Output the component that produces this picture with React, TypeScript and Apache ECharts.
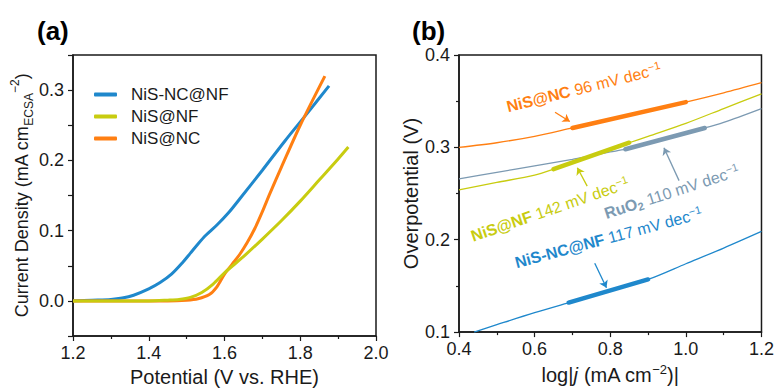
import React, { useEffect, useRef } from 'react';
import * as echarts from 'echarts';

// ---------- Panel (a): LSV normalised by ECSA ----------
const legendNames = ['NiS-NC@NF', 'NiS@NF', 'NiS@NC'];

const aBlueV = [1.20, 1.25, 1.30, 1.33, 1.36, 1.40, 1.43, 1.46, 1.49, 1.51, 1.53, 1.55, 1.58, 1.61, 1.64, 1.70, 1.76, 1.82, 1.876];
const aBlueJ = [0.000, 0.001, 0.002, 0.004, 0.008, 0.017, 0.026, 0.038, 0.055, 0.068, 0.081, 0.093, 0.108, 0.125, 0.145, 0.186, 0.228, 0.268, 0.306];

const aOrangeV = [1.20, 1.30, 1.40, 1.45, 1.50, 1.53, 1.56, 1.58, 1.60, 1.62, 1.64, 1.66, 1.68, 1.70, 1.72, 1.75, 1.80, 1.865];
const aOrangeJ = [0.000, 0.000, 0.000, 0.000, 0.001, 0.003, 0.009, 0.020, 0.038, 0.052, 0.066, 0.083, 0.103, 0.127, 0.153, 0.190, 0.250, 0.320];

const aYellowV = [1.20, 1.30, 1.40, 1.45, 1.48, 1.51, 1.54, 1.57, 1.60, 1.65, 1.70, 1.75, 1.80, 1.85, 1.90, 1.927];
const aYellowJ = [0.000, 0.000, 0.000, 0.001, 0.002, 0.005, 0.012, 0.024, 0.040, 0.063, 0.088, 0.114, 0.142, 0.172, 0.202, 0.219];

// ---------- Panel (b): Tafel plots ----------
const bOrangeX = [0.40, 0.50, 0.60, 0.70, 0.80, 0.90, 1.00, 1.10, 1.20];
const bOrangeY = [0.300, 0.305, 0.312, 0.321, 0.330, 0.340, 0.349, 0.359, 0.370];
const bOrangeFitX = [0.70, 1.00];
const bOrangeFitY = [0.321, 0.349];

const bYellowX = [0.40, 0.50, 0.60, 0.65, 0.70, 0.75, 0.80, 0.85, 0.90, 1.00, 1.10, 1.20];
const bYellowY = [0.254, 0.262, 0.270, 0.2765, 0.284, 0.291, 0.298, 0.305, 0.312, 0.326, 0.342, 0.358];
const bYellowFitX = [0.65, 0.85];
const bYellowFitY = [0.2765, 0.305];

const bGrayX = [0.40, 0.50, 0.60, 0.70, 0.75, 0.80, 0.84, 0.90, 1.00, 1.05, 1.10, 1.20];
const bGrayY = [0.266, 0.273, 0.280, 0.287, 0.291, 0.295, 0.298, 0.305, 0.316, 0.321, 0.327, 0.342];
const bGrayFitX = [0.84, 1.05];
const bGrayFitY = [0.298, 0.321];

const bBlueX = [0.44, 0.50, 0.60, 0.70, 0.80, 0.90, 1.00, 1.10, 1.20];
const bBlueY = [0.100, 0.108, 0.121, 0.133, 0.145, 0.157, 0.174, 0.191, 0.209];
const bBlueFitX = [0.69, 0.90];
const bBlueFitY = [0.132, 0.157];

// arrows [tailX, tailY, headX, headY]
const arrowOrange = [0.654, 0.338, 0.693, 0.328];
const arrowYellow = [0.739, 0.258, 0.713, 0.278];
const arrowGray = [0.982, 0.264, 0.942, 0.2995];
const arrowBlue = [0.759, 0.1746, 0.790, 0.148];

const C_BLUE = '#1f88cc';
const C_YEL = '#c8cc10';
const C_ORA = '#ff7f12';
const C_GRAY = '#7c9ab2';
const INK = '#1a1a1a';
const FONT = "'Liberation Sans', Arial, sans-serif";

const zip = (xs: number[], ys: number[]) => xs.map((x, i) => [x, ys[i]]);

const fmt1 = (v: number) => (Math.abs(v) < 1e-9 ? '0.0' : v.toFixed(1));

const TICK_FS = 18;
const TITLE_FS = 20;

function axisCommon() {
  return {
    axisLine: { show: true, onZero: false, lineStyle: { color: INK, width: 1.5 } },
    axisTick: { show: true, inside: false, length: 5, lineStyle: { color: INK, width: 1.2 } },
    minorTick: { show: true, splitNumber: 2, length: 3, lineStyle: { color: INK, width: 1.2 } },
    splitLine: { show: false },
    axisLabel: { fontSize: TICK_FS, color: INK, fontFamily: FONT, formatter: fmt1, margin: 8 },
    nameLocation: 'middle' as const,
    nameTextStyle: { fontSize: TITLE_FS, color: INK, fontFamily: FONT },
  };
}

export default function App() {
  const ref = useRef<HTMLDivElement>(null);

  useEffect(() => {
    if (!ref.current) return;
    const chart = echarts.init(ref.current, undefined, { renderer: 'svg' });

    const thin = (name: string, xs: number[], ys: number[], color: string) => ({
      name, type: 'line', xAxisIndex: 1, yAxisIndex: 1, data: zip(xs, ys),
      showSymbol: false, smooth: 0.3, lineStyle: { color, width: 1.3 }, itemStyle: { color }, z: 2,
    });
    const thick = (name: string, xs: number[], ys: number[], color: string) => ({
      name, type: 'line', xAxisIndex: 1, yAxisIndex: 1, data: zip(xs, ys),
      showSymbol: false, lineStyle: { color, width: 4.5, cap: 'round' }, itemStyle: { color }, z: 3,
    });
    const arrow = (name: string, a: number[], color: string) => ({
      name, type: 'lines', coordinateSystem: 'cartesian2d', xAxisIndex: 1, yAxisIndex: 1,
      symbol: ['none', 'arrow'], symbolSize: 7, silent: true,
      lineStyle: { color, width: 1.3, opacity: 1 },
      data: [{ coords: [[a[0], a[1]], [a[2], a[3]]] }], z: 4,
    });
    const lsv = (name: string, xs: number[], ys: number[], color: string) => ({
      name, type: 'line', xAxisIndex: 0, yAxisIndex: 0, data: zip(xs, ys),
      showSymbol: false, smooth: 0.3, lineStyle: { color, width: 3 }, itemStyle: { color },
    });

    const option: any = {
      animation: false,
      backgroundColor: '#ffffff',
      grid: [
        { left: 73, top: 55, width: 303, height: 282, show: true, borderColor: INK, borderWidth: 1.5 },
        { left: 459, top: 55, width: 303, height: 282, show: true, borderColor: INK, borderWidth: 1.5 },
      ],
      legend: {
        data: legendNames,
        left: 89, top: 81, orient: 'vertical', itemWidth: 23, itemHeight: 4, itemGap: 5,
        icon: 'roundRect',
        textStyle: { fontSize: 17, color: INK, fontFamily: FONT, lineHeight: 17, padding: [0, 0, 0, 9] },
      },
      xAxis: [
        {
          ...axisCommon(), gridIndex: 0, type: 'value', min: 1.2, max: 2.0, interval: 0.2,
          name: 'Potential (V vs. RHE)', nameGap: 31,
        },
        {
          ...axisCommon(), gridIndex: 1, type: 'value', min: 0.4, max: 1.2, interval: 0.2,
          name: 'log|{i|j} (mA cm{sup|−2})|', nameGap: 30,
          nameTextStyle: {
            fontSize: TITLE_FS, color: INK, fontFamily: FONT, lineHeight: 24,
            rich: {
              i: { fontSize: TITLE_FS, fontStyle: 'italic', color: INK, fontFamily: FONT, lineHeight: 24 },
              sup: { fontSize: 13, color: INK, fontFamily: FONT, verticalAlign: 'top', lineHeight: 13 },
            },
          },
        },
      ],
      yAxis: [
        {
          ...axisCommon(), gridIndex: 0, type: 'value', min: -0.05, max: 0.35, interval: 0.05,
          minorTick: { show: false },
          axisLabel: {
            ...axisCommon().axisLabel, margin: 9,
            formatter: (v: number) => (Math.abs(Math.round(v * 20)) % 2 === 0 ? fmt1(v) : ''),
          },
          name: 'Current Density (mA cm{sub|ECSA}{sup|−2})', nameGap: 34,
          nameTextStyle: {
            fontSize: 18, color: INK, fontFamily: FONT, lineHeight: 26,
            rich: {
              sub: { fontSize: 12, color: INK, fontFamily: FONT, verticalAlign: 'bottom', lineHeight: 12 },
              sup: { fontSize: 12, color: INK, fontFamily: FONT, verticalAlign: 'top', lineHeight: 12 },
            },
          },
        },
        {
          ...axisCommon(), gridIndex: 1, type: 'value', min: 0.1, max: 0.4, interval: 0.1,
          axisLabel: { ...axisCommon().axisLabel, margin: 9 },
          name: 'Overpotential (V)', nameGap: 37,
        },
      ],
      series: [
        lsv(legendNames[0], aBlueV, aBlueJ, C_BLUE),
        lsv(legendNames[2], aOrangeV, aOrangeJ, C_ORA),
        lsv(legendNames[1], aYellowV, aYellowJ, C_YEL),
        thin('b NiS@NC', bOrangeX, bOrangeY, C_ORA),
        thin('b NiS@NF', bYellowX, bYellowY, C_YEL),
        thin('b RuO2', bGrayX, bGrayY, C_GRAY),
        thin('b NiS-NC@NF', bBlueX, bBlueY, C_BLUE),
        thick('fit NiS@NC', bOrangeFitX, bOrangeFitY, C_ORA),
        thick('fit NiS@NF', bYellowFitX, bYellowFitY, C_YEL),
        thick('fit RuO2', bGrayFitX, bGrayFitY, C_GRAY),
        thick('fit NiS-NC@NF', bBlueFitX, bBlueFitY, C_BLUE),
        arrow('arr NiS@NC', arrowOrange, C_ORA),
        arrow('arr NiS@NF', arrowYellow, C_YEL),
        arrow('arr RuO2', arrowGray, C_GRAY),
        arrow('arr NiS-NC@NF', arrowBlue, C_BLUE),
      ],
    };
    chart.setOption(option);

    // annotation labels (data-anchored, rotated)
    const notes = [
      { at: [0.530, 0.338], deg: 14, color: C_ORA, text: '{b|NiS@NC} {n|96 mV dec}{s|−1}' },
      { at: [0.438, 0.1977], deg: 19, color: C_YEL, text: '{b|NiS@NF} {n|142 mV dec}{s|−1}' },
      { at: [0.790, 0.2225], deg: 18, color: C_GRAY, text: '{b|RuO}{bs|2} {n|110 mV dec}{s|−1}' },
      { at: [0.5525, 0.1692], deg: 15, color: C_BLUE, text: '{b|NiS-NC@NF} {n|117 mV dec}{s|−1}' },
    ];
    const graphics: any[] = notes.map((n) => {
      const p = chart.convertToPixel({ xAxisIndex: 1, yAxisIndex: 1 }, n.at) as number[];
      const rich = {
        b: { fontSize: 16, fontWeight: 'bold', fill: n.color, color: n.color, fontFamily: FONT, lineHeight: 19 },
        bs: { fontSize: 11, fontWeight: 'bold', fill: n.color, color: n.color, fontFamily: FONT, lineHeight: 11, verticalAlign: 'bottom' },
        n: { fontSize: 16, fill: n.color, color: n.color, fontFamily: FONT, lineHeight: 19 },
        s: { fontSize: 11, fill: n.color, color: n.color, fontFamily: FONT, lineHeight: 11, verticalAlign: 'top' },
      };
      return {
        type: 'group', x: p[0], y: p[1], rotation: (n.deg * Math.PI) / 180, silent: true,
        children: [{
          type: 'text', x: 0, y: 4,
          style: {
            text: n.text, rich, fill: n.color, fontSize: 16, fontFamily: FONT,
            textAlign: 'left', textVerticalAlign: 'bottom', align: 'left', verticalAlign: 'bottom',
          },
        }],
      };
    });
    graphics.push(
      { type: 'text', left: 37, top: 18, style: { text: '(a)', fontSize: 26, fontWeight: 'bold', fontFamily: FONT, fill: '#000' } },
      { type: 'text', left: 412, top: 18, style: { text: '(b)', fontSize: 26, fontWeight: 'bold', fontFamily: FONT, fill: '#000' } },
    );
    chart.setOption({ graphic: graphics });

    return () => chart.dispose();
  }, []);

  return (
    <div
      ref={ref}
      style={{ position: 'fixed', left: 0, top: 0, width: 777, height: 392, background: '#fff' }}
    />
  );
}
